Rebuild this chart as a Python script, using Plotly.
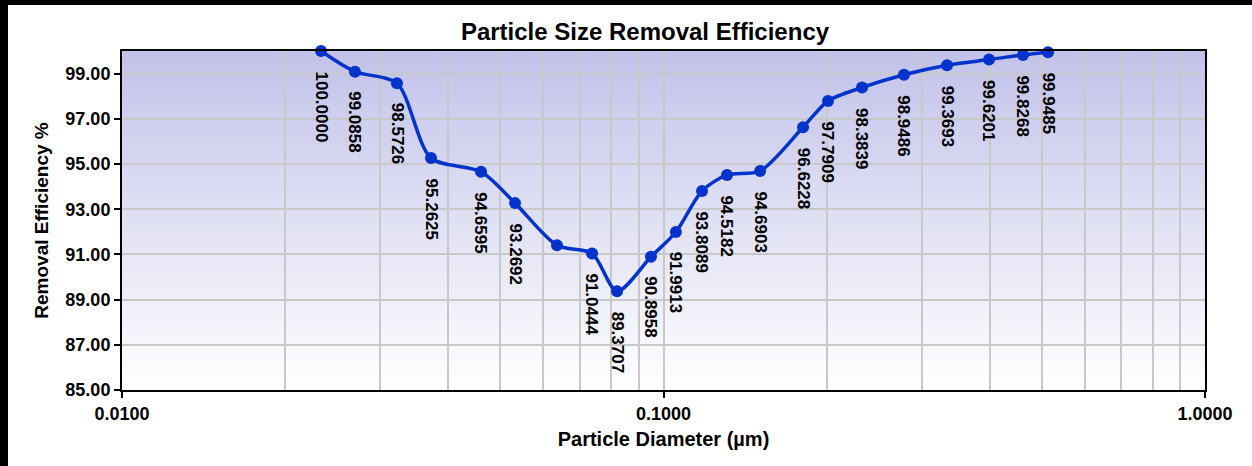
import base64
import math
import plotly.graph_objects as go

# ---- data ----
diameters = [0.02331, 0.02693, 0.03219, 0.03721, 0.04603, 0.05319, 0.06358, 0.07379,
             0.08207, 0.09482, 0.1054, 0.1178, 0.1310, 0.1508, 0.1810, 0.2013,
             0.2326, 0.2781, 0.3339, 0.3992, 0.4612, 0.5130]
efficiency = [100.0000, 99.0858, 98.5726, 95.2625, 94.6595, 93.2692, 91.40, 91.0444,
              89.3707, 90.8958, 91.9913, 93.8089, 94.5182, 94.6903, 96.6228, 97.7909,
              98.3839, 98.9486, 99.3693, 99.6201, 99.8268, 99.9485]
show_label = [True] * 6 + [False] + [True] * 15

x_tickvals = [0.01, 0.1, 1.0]
x_ticktext = ["0.0100", "0.1000", "1.0000"]
y_tickvals = [85, 87, 89, 91, 93, 95, 97, 99]

FONT = "Arial, 'Liberation Sans', sans-serif"
BLUE = "#0033cc"

fig = go.Figure()
fig.add_trace(go.Scatter(
    x=diameters, y=efficiency, mode="lines+markers",
    line=dict(color=BLUE, width=3.5, shape="spline", smoothing=0.8),
    marker=dict(color=BLUE, size=12),
    hoverinfo="x+y", showlegend=False, cliponaxis=False,
))

annotations = []
for xv, yv, s in zip(diameters, efficiency, show_label):
    if not s:
        continue
    annotations.append(dict(
        x=math.log10(xv), y=yv, xref="x", yref="y", text=f"{yv:.4f}", showarrow=False,
        textangle=90, yanchor="top", xanchor="center", yshift=-18,
        font=dict(family=FONT, size=17, color="black", weight="bold"),
    ))

# gradient background for the plot area
svg = ('<svg xmlns="http://www.w3.org/2000/svg" width="100" height="100" preserveAspectRatio="none">'
       '<defs><linearGradient id="g" x1="0" y1="0" x2="0" y2="1">'
       '<stop offset="0" stop-color="#c2c2ea"/><stop offset="1" stop-color="#ffffff"/>'
       '</linearGradient></defs><rect width="100" height="100" fill="url(#g)"/></svg>')
src = "data:image/svg+xml;base64," + base64.b64encode(svg.encode()).decode()

W, H = 1252, 466
L, R, T, B = 122, 47, 51, 76
pw, ph = W - L - R, H - T - B
px = lambda v: (v - L) / pw
py = lambda v: (H - B - v) / ph

shapes = [
    dict(type="rect", xref="paper", yref="paper", x0=px(0), x1=px(8), y0=py(H), y1=py(0),
         fillcolor="black", line=dict(width=0), layer="above"),
    dict(type="rect", xref="paper", yref="paper", x0=px(0), x1=px(W), y0=py(5), y1=py(0),
         fillcolor="black", line=dict(width=0), layer="above"),
]

fig.update_layout(
    width=W, height=H,
    margin=dict(l=L, r=R, t=T, b=B),
    paper_bgcolor="white", plot_bgcolor="rgba(0,0,0,0)",
    images=[dict(source=src, xref="paper", yref="paper", x=0, y=1, sizex=1, sizey=1,
                 sizing="stretch", xanchor="left", yanchor="top", layer="below")],
    title=dict(text="Particle Size Removal Efficiency", x=645 / W, xanchor="center",
               y=1 - 32 / H, yanchor="middle",
               font=dict(family=FONT, size=24, color="black", weight="bold")),
    annotations=annotations,
    shapes=shapes,
    xaxis=dict(
        type="log", range=[-2, 0], tickvals=x_tickvals, ticktext=x_ticktext,
        showgrid=True, gridcolor="#c8c8c8", gridwidth=1.5,
        minor=dict(dtick="D1", showgrid=True, gridcolor="#c8c8c8", gridwidth=1.5, ticks=""),
        ticks="outside", ticklen=6, tickcolor="black", tickwidth=1.5,
        showline=True, linecolor="black", linewidth=2, mirror=True,
        tickfont=dict(family=FONT, size=18, color="black", weight="bold"),
        title=dict(text="Particle Diameter (µm)", standoff=9,
                   font=dict(family=FONT, size=20, color="black", weight="bold")),
    ),
    yaxis=dict(
        range=[85, 100], tickvals=y_tickvals, ticktext=[f"{v:.2f}" for v in y_tickvals],
        showgrid=True, gridcolor="#c8c8c8", gridwidth=1.5,
        ticks="outside", ticklen=6, tickcolor="black", tickwidth=1.5,
        showline=True, linecolor="black", linewidth=2, mirror=True, zeroline=False,
        tickfont=dict(family=FONT, size=18, color="black", weight="bold"),
        title=dict(text="Removal Efficiency %", standoff=12,
                   font=dict(family=FONT, size=19, color="black", weight="bold")),
    ),
)

fig.write_html("out.html", config={"displayModeBar": False},
               post_script="document.body.style.margin='0px';")
